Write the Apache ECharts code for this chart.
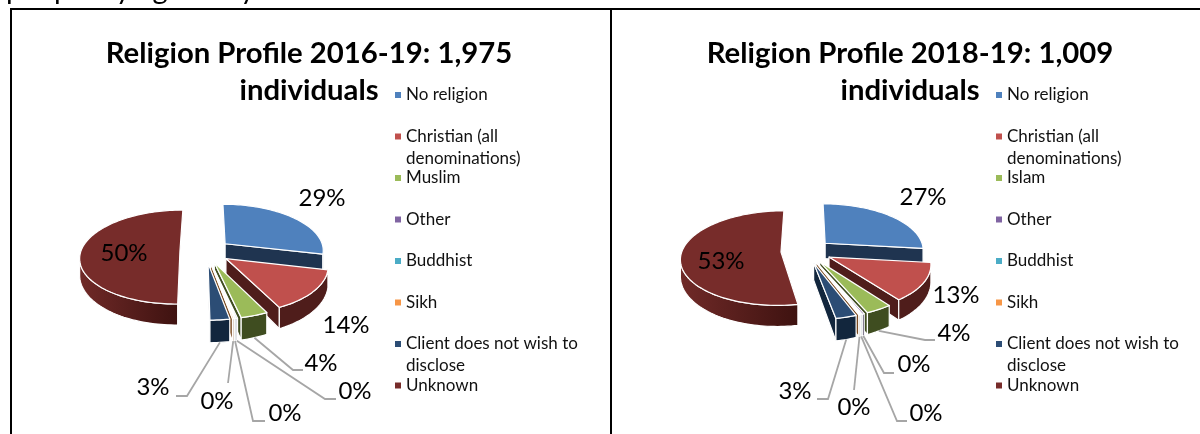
<!DOCTYPE html>
<html>
<head>
<meta charset="utf-8">
<style>html,body{margin:0;padding:0;background:#fff}#chart{width:1200px;height:434px}</style>
<script src="https://cdn.jsdelivr.net/npm/echarts@6/dist/echarts.min.js"></script>
</head>
<body>
<div id="chart"></div>
<script>
// Percent shares for each profile, in slice order clockwise from twelve o'clock.
var namesLeft = ['No religion', 'Christian (all denominations)', 'Muslim', 'Other', 'Buddhist', 'Sikh', 'Client does not wish to disclose', 'Unknown'];
var namesRight = ['No religion', 'Christian (all denominations)', 'Islam', 'Other', 'Buddhist', 'Sikh', 'Client does not wish to disclose', 'Unknown'];
var sharesLeft = [28.6, 14.0, 3.8, 0.2, 0.2, 0.2, 2.7, 50.1];
var sharesRight = [26.8, 13.0, 3.7, 0.3, 0.2, 0.2, 2.9, 52.9];
var titleLeft = 'Religion Profile 2016-19: 1,975\nindividuals';
var titleRight = 'Religion Profile 2018-19: 1,009\nindividuals';

// Slice colours: top face and side wall.
var topColors = ['#4f81bd', '#c0504d', '#9bbb59', '#8064a2', '#4bacc6', '#f79646', '#2c4d75', '#772c2a'];
var wallColors = ['#1f3450', '#4f1d1b', '#3f4d20', '#33284a', '#1e4a55', '#7a4a20', '#12263d', '#4a1715'];
var wallEndColors = ['#1f3450', '#4f1d1b', '#3f4d20', '#33284a', '#1e4a55', '#7a4a20', '#12263d', '#3e1210'];

// Where each percentage label sits and how its leader line runs (null = no leader).
var labelSpotsLeft = [[322, 198], [346, 325], [321, 363], [355, 391], [285, 413], [217, 401], [153, 387], [124, 253]];
var leadersLeft = [null, null, [[293, 370], [303, 370]], [[325, 399], [336, 399]], [[253, 421], [265, 421]], [[228, 383]], [[187, 396], [176, 396]], null];
var labelSpotsRight = [[923, 197], [956, 295], [954, 333], [914, 364], [926, 413], [854, 407], [795, 391], [721, 261]];
var leadersRight = [null, null, [[925, 340], [935, 340]], [[884, 373], [894, 373]], [[897, 421], [907, 421]], [[854, 390]], [[828, 399], [817, 399]], null];

// Pie geometry shared by both charts.
var RX = 99, RY = 46.2, TILT = 0.127, DEPTH = 16, EXPLODE = 0.258, START_DEG = 0;
var CY = 251, CX_LEFT = 205.5, CX_RIGHT = 806.5;
var FONT = 'Lato, Carlito, "Open Sans", sans-serif';

// Legend rows and the wrapped second lines of the two long entries.
var LEGEND_TOP = 84, LEGEND_ROW = 41.5, LEGEND_LINE = 22;
var legendShortNames = {
  'Christian (all denominations)': 'Christian (all',
  'Client does not wish to disclose': 'Client does not wish to'
};
var legendSecondLines = { 1: 'denominations)', 6: 'disclose' };

function project(cx, a, b, lift) {
  var f = 1 / (1 - TILT * b);
  return [cx + RX * a * f, CY + RY * b * f + DEPTH * f * f * (lift || 0)];
}

function sliceElements(cx, from, to, rank, idx, spot, leader, label) {
  var mid = (from + to) / 2;
  var ax = EXPLODE * Math.sin(mid), ay = -EXPLODE * Math.cos(mid);
  var steps = Math.max(2, Math.ceil((to - from) / 0.03));
  var topPts = [project(cx, ax, ay)];
  var wallTop = [], wallBottom = [];
  for (var i = 0; i <= steps; i++) {
    var t = from + (to - from) * i / steps;
    var a = ax + Math.sin(t), b = ay - Math.cos(t);
    topPts.push(project(cx, a, b));
    // Only the stretch of rim turned towards the viewer gets a wall.
    if (-Math.cos(t) > TILT) {
      wallTop.push(project(cx, a, b));
      wallBottom.unshift(project(cx, a, b, 1));
    }
  }
  var edge = { stroke: '#fff', lineWidth: 1.2, lineJoin: 'round' };
  var kids = [];
  function radialWall(t) {
    var a = ax + Math.sin(t), b = ay - Math.cos(t);
    kids.push({
      type: 'polygon', z2: rank,
      shape: { points: [project(cx, ax, ay), project(cx, a, b), project(cx, a, b, 1), project(cx, ax, ay, 1)] },
      style: Object.assign({ fill: wallColors[idx] }, edge)
    });
  }
  if (-Math.sin(from) > 0.01) radialWall(from);
  if (Math.sin(to) > 0.01) radialWall(to);
  if (wallTop.length > 1) {
    kids.push({
      type: 'polygon', z2: rank,
      shape: { points: wallTop.concat(wallBottom) },
      style: Object.assign({
        fill: new echarts.graphic.LinearGradient(1, 0, 0, 0, [
          { offset: 0, color: wallEndColors[idx] },
          { offset: 1, color: idx === 7 ? '#702a28' : wallColors[idx] }
        ])
      }, edge)
    });
  }
  kids.push({
    type: 'polygon', z2: rank,
    shape: { points: topPts },
    style: Object.assign({ fill: topColors[idx] }, edge)
  });
  if (leader) {
    var mt = ax + Math.sin(mid), mb = ay - Math.cos(mid);
    kids.push({
      type: 'polyline', z2: 100,
      shape: { points: [project(cx, mt, mb, 1)].concat(leader) },
      style: { stroke: '#a6a6a6', lineWidth: 1.8, fill: 'none' }
    });
  }
  kids.push({
    type: 'text', z2: 101, x: spot[0], y: spot[1],
    style: { text: label, fill: '#000', font: '24px ' + FONT, align: 'center', verticalAlign: 'middle' }
  });
  return { type: 'group', children: kids };
}

function buildSeries(names, shares, cx, spots, leaders) {
  var total = shares.reduce(function (s, v) { return s + v; }, 0);
  var out = [], run = 0;
  var start = START_DEG * Math.PI / 180;
  var mids = shares.map(function (v) {
    var m = start + (run + v / 2) / total * 2 * Math.PI;
    run += v;
    return -Math.cos(m);
  });
  // Far slices are painted first so nearer ones sit over them.
  var order = mids.map(function (m, i) { return i; }).sort(function (p, q) { return mids[p] - mids[q]; });
  run = 0;
  shares.forEach(function (v, i) {
    var from = start + run / total * 2 * Math.PI;
    run += v;
    var to = start + run / total * 2 * Math.PI;
    out.push({
      type: 'custom',
      name: names[i],
      coordinateSystem: 'none',
      silent: true,
      itemStyle: { color: topColors[i] },
      data: [[v]],
      renderItem: function (params, api) {
        var value = api.value(0);
        return sliceElements(cx, from, to, order.indexOf(i) + 1, i, spots[i], leaders[i], Math.round(value) + '%');
      }
    });
  });
  return out;
}

function buildLegend(names, left) {
  return {
    orient: 'vertical', left: left, top: LEGEND_TOP, padding: 0,
    itemWidth: 6, itemHeight: 6, itemGap: LEGEND_ROW - LEGEND_LINE, icon: 'rect',
    selectedMode: false,
    formatter: function (name) { return legendShortNames[name] || name; },
    textStyle: { fontFamily: FONT, fontSize: 17, color: '#111', lineHeight: LEGEND_LINE },
    data: names
  };
}

function legendContinuations(left) {
  return Object.keys(legendSecondLines).map(function (row) {
    return {
      type: 'text', x: left + 11, y: LEGEND_TOP + (+row) * LEGEND_ROW + LEGEND_LINE,
      style: { text: legendSecondLines[row], font: '17px ' + FONT, fill: '#111', lineHeight: LEGEND_LINE }
    };
  });
}

function titleBlock(text, x) {
  return {
    text: text, left: x, top: 35, textAlign: 'center', padding: 0,
    textStyle: { fontFamily: FONT, fontWeight: 'bold', fontSize: 29.3, lineHeight: 37, color: '#000' }
  };
}

var LEGEND_LEFT_A = 395, LEGEND_LEFT_B = 996;
var chart = echarts.init(document.getElementById('chart'));
chart.setOption({
  animation: false,
  backgroundColor: '#fff',
  title: [titleBlock(titleLeft, 309), titleBlock(titleRight, 910)],
  legend: [buildLegend(namesLeft, LEGEND_LEFT_A), buildLegend(namesRight, LEGEND_LEFT_B)],
  series: buildSeries(namesLeft, sharesLeft, CX_LEFT, labelSpotsLeft, leadersLeft)
    .concat(buildSeries(namesRight, sharesRight, CX_RIGHT, labelSpotsRight, leadersRight)),
  graphic: legendContinuations(LEGEND_LEFT_A).concat(legendContinuations(LEGEND_LEFT_B)).concat([
    // Table rules around the two charts and the line of running text above them.
    { type: 'text', x: 6, y: -25, style: { text: 'people by age or by', font: '29px ' + FONT, fill: '#000' } },
    { type: 'line', shape: { x1: 10, y1: 9, x2: 1200, y2: 9 }, style: { stroke: '#000', lineWidth: 2 } },
    { type: 'line', shape: { x1: 11, y1: 9, x2: 11, y2: 434 }, style: { stroke: '#000', lineWidth: 2 } },
    { type: 'line', shape: { x1: 611, y1: 9, x2: 611, y2: 434 }, style: { stroke: '#000', lineWidth: 2 } }
  ])
});
</script>
</body>
</html>
